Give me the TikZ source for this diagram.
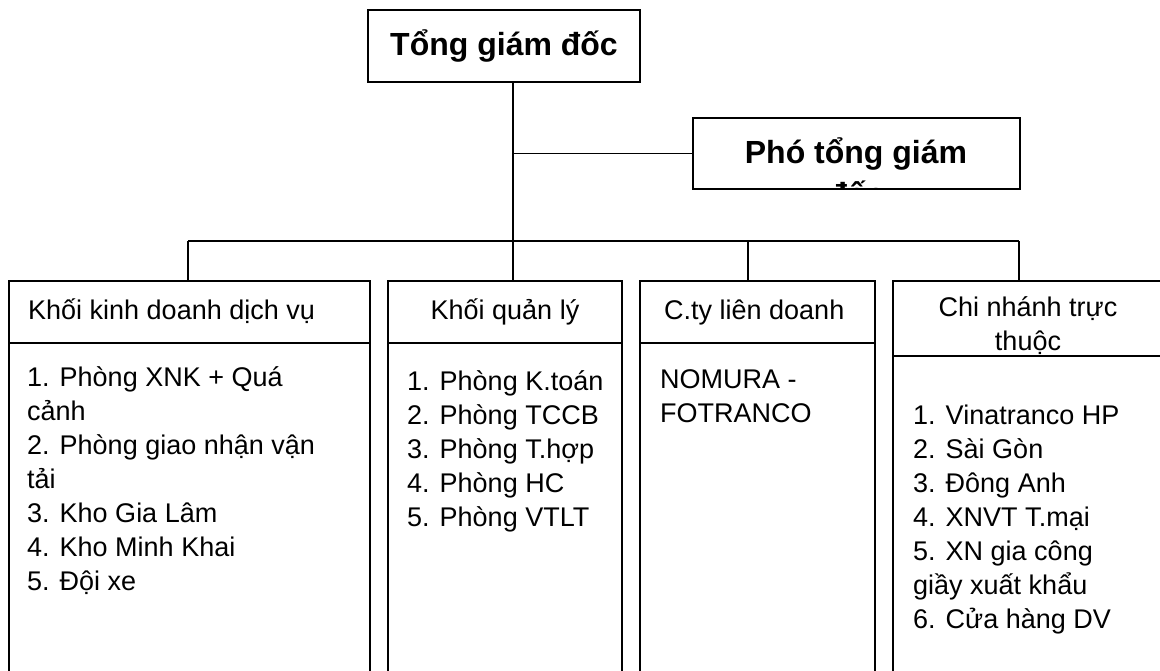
\documentclass[tikz,border=0pt]{standalone}
\usepackage{fontspec}
\setmainfont{Liberation Sans}
\usetikzlibrary{positioning}

\begin{document}
\begin{tikzpicture}[x=1pt, y=-1pt,
    boss/.style={draw, line width=1.5pt, inner sep=0pt},
    bossfont/.style={font=\fontsize{32}{37}\selectfont\bfseries},
    unit/.style={draw, line width=1.5pt, inner sep=0pt, minimum height=440pt, anchor=north west},
    head/.style={font=\fontsize{27}{35}\selectfont, inner sep=0pt},
    body/.style={font=\fontsize{27}{34}\selectfont, align=left, inner sep=0pt, anchor=base west},
    link/.style={line width=1.2pt}
    ]
    \useasboundingbox (0,0) rectangle (1160,670);
    \clip (0,0) rectangle (1160,670);

    % ---------------- TOP LEVEL ----------------
    \node[boss, bossfont, minimum width=272pt, minimum height=72pt] (tgd) at (504,46) {Tổng giám đốc};
    \node[boss, minimum width=327pt, minimum height=71pt] (ptgd) at (856.5,153.5) {};
    \begin{scope}
        \clip (ptgd.south west) rectangle (ptgd.north east);
        % base of a multi-line node = its last line
        \node[bossfont, font=\fontsize{32}{42}\selectfont\bfseries, align=center, inner sep=0pt, anchor=base] (ptgdtxt) at (856,205) {Phó tổng giám\\đốc};
    \end{scope}

    % ---------------- UNITS ----------------
    \node[unit, minimum width=361pt] (kd) at (8,280) {};
    \node[unit, minimum width=234pt] (ql) at (387,280) {};
    \node[unit, minimum width=235pt] (lds) at (639,280) {};
    \node[unit, minimum width=300pt] (cn) at (892,280) {};

    \coordinate (hl) at (0,343);
    \coordinate (hlcn) at (0,356);
    \foreach \b in {kd, ql, lds}
        \draw[link] (\b.west |- hl) -- (\b.east |- hl);

    \node[head, anchor=base west] (kdh) at (28,319) {Khối kinh doanh dịch vụ};
    \node[head, anchor=base] (qlh) at (505,319) {Khối quản lý};
    \node[head, anchor=base west] (ldsh) at (664,319) {C.ty liên doanh};
    \node[head, font=\fontsize{27}{34}\selectfont, align=center, anchor=base] (cnh) at (1028,350) {Chi nhánh trực\\thuộc};
    \draw[link] (cn.west |- hlcn) -- (cn.east |- hlcn);

    \node[body] (kdb) at (27,590) {1. Phòng XNK + Quá\\cảnh\\2. Phòng giao nhận vận\\tải\\3. Kho Gia Lâm\\4. Kho Minh Khai\\5. Đội xe};
    \node[body] (qlb) at (407,526) {1. Phòng K.toán\\2. Phòng TCCB\\3. Phòng T.hợp\\4. Phòng HC\\5. Phòng VTLT};
    \node[body] (ldsb) at (660,422) {NOMURA -\\FOTRANCO};
    \node[body] (cnb) at (913,628) {1. Vinatranco HP\\2. Sài Gòn\\3. Đông Anh\\4. XNVT T.mại\\5. XN gia công\\giầy xuất khẩu\\6. Cửa hàng DV};

    % ---------------- CONNECTORS ----------------
    \coordinate (hub) at (513,241);
    \coordinate (d1) at (188,241);
    \coordinate (d3) at (748,241);
    \coordinate (d4) at (1019,241);
    \draw[link] (tgd.south -| hub) -- (hub);
    \draw[link] (hub |- ptgd.west) -- (ptgd.west);
    \draw[link] (d1) -- (d4);
    \foreach \d/\b in {d1/kd, hub/ql, d3/lds, d4/cn}
        \draw[link] (\d) -- (\d |- \b.north);
\end{tikzpicture}
\end{document}
